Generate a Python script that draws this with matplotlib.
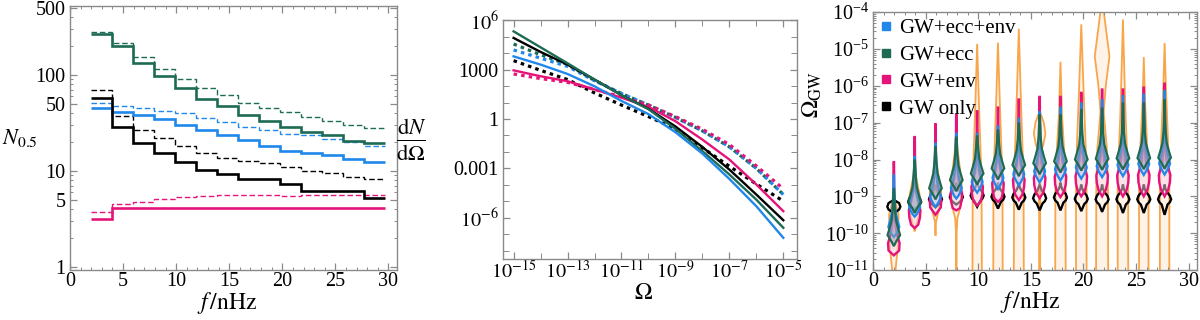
import numpy as np
import matplotlib
matplotlib.use('Agg')
import matplotlib.pyplot as plt
from matplotlib.lines import Line2D
from matplotlib.ticker import FixedLocator, FixedFormatter, LogLocator, NullFormatter, MultipleLocator

plt.rcParams['font.family'] = ['Liberation Serif', 'DejaVu Serif']
plt.rcParams['mathtext.fontset'] = 'stix'

GREEN = '#1d6b54'
BLUE = '#1f88ea'
PINK = '#e5147a'
BLACK = '#000000'
ORANGE = '#f9a54a'
FRAME = '#8a8a8a'

# ---------------- panel 1 : N_0.5 per frequency bin ----------------
f_edges = np.arange(1, 16) * 1.98   # bin edges, nHz
n_green = [268, 199, 132, 97.6, 73.6, 55.9, 47.2, 37.9, 32.8, 28.6, 25.3, 23.4, 20.4, 19.6]
n_green_d = [277, 215, 152, 116, 90, 73.6, 61.6, 51.2, 45.3, 40.5, 36.4, 33, 30.3, 27.9]
n_blue = [45.3, 41.1, 37.9, 34.2, 29.8, 26.8, 23.7, 20.7, 18.3, 16.2, 15.4, 14.4, 13.3, 12.2]
n_blue_d = [50.3, 47.2, 45.3, 41.8, 39.5, 35, 31.8, 28.6, 26.4, 24.3, 23.4, 21.5, 19.9, 18.3]
n_black = [56.8, 28.6, 19.4, 15.4, 12.2, 10.2, 9.2, 8.2, 8.2, 7.2, 6.2, 6.2, 6.2, 5.2]
n_black_d = [69, 37.3, 26.8, 21.9, 17.9, 15.2, 13.6, 12.7, 11.9, 10.8, 10, 9.45, 8.65, 8.2]
n_pink = [3.1, 4.11, 4.11, 4.11, 4.11, 4.11, 4.11, 4.11, 4.11, 4.11, 4.11, 4.11, 4.11, 4.11]
n_pink_d = [3.7, 4.46, 4.75, 5.1, 5.37, 5.45, 5.6, 5.6, 5.6, 5.45, 5.6, 5.6, 5.6, 5.6]

# ---------------- panel 2 : dN/dOmega (log10 values) ----------------
om_log = [-15, -14, -13, -12, -11, -10, -9, -8, -7, -6, -5]
dn_green = [5.33, 4.36, 3.39, 2.40, 1.45, 0.6, -0.6, -1.95, -3.37, -4.9, -6.61]
dn_black = [4.93, 4.08, 3.31, 2.4, 1.45, 0.62, -0.45, -1.7, -3.07, -4.59, -6.15]
dn_green_d = [4.56, 3.91, 3.31, 2.35, 1.55, 0.85, 0.1, -0.72, -1.69, -3.0, -4.59]
dn_blue_d = [4.2, 3.7, 3.2, 2.33, 1.55, 0.85, 0.1, -0.72, -1.69, -3.0, -4.59]
dn_blue = [3.81, 3.31, 2.74, 1.99, 1.1, 0.3, -0.8, -2.1, -3.64, -5.3, -7.22]
dn_black_d = [3.55, 2.96, 2.40, 1.59, 0.85, 0.15, -0.6, -1.75, -2.87, -3.95, -4.99]
dn_pink = [2.96, 2.6, 2.3, 1.8, 1.3, 0.74, -0.13, -1.25, -2.46, -3.98, -5.6]
dn_pink_d = [2.74, 2.46, 2.23, 1.8, 1.35, 0.85, 0.15, -0.62, -1.55, -2.85, -4.24]

# ---------------- panel 3 : violins (log10 Omega_GW) ----------------
f_bins = np.arange(1, 15) * 1.98
pink_top = [-8.07, -7.39, -7.04, -6.78, -6.69, -6.59, -6.37, -6.30, -6.30, -6.19, -6.10, -6.10, -6.05, -5.94]
pink_waist = [-10.27, -9.37, -9.1, -8.92, -8.74, -8.65, -8.55, -8.5, -8.47, -8.45, -8.43, -8.43, -8.42, -8.42]
pink_bottom = [-10.6, -9.86, -9.5, -9.38, -9.25, -9.15, -9.1, -9.05, -9.02, -9.0, -9.0, -9.0, -9.0, -9.0]
blue_top = [-8.43, -7.93, -7.57, -7.30, -7.30, -7.10, -6.89, -6.71, -6.59, -6.48, -6.39, -6.28, -6.24, -6.14]
blue_waist = [-9.83, -9.28, -9.0, -8.78, -8.61, -8.5, -8.4, -8.32, -8.27, -8.22, -8.18, -8.15, -8.12, -8.11]
blue_bottom = [-10.1, -9.55, -9.28, -9.06, -8.9, -8.8, -8.7, -8.62, -8.57, -8.52, -8.48, -8.45, -8.42, -8.41]
green_top = [-8.8, -8.02, -7.66, -7.40, -7.37, -7.21, -7.02, -6.80, -6.80, -6.66, -6.62, -6.48, -6.48, -6.39]
green_waist = [-10.05, -9.15, -8.78, -8.56, -8.38, -8.24, -8.15, -8.1, -8.05, -8.0, -7.98, -7.97, -7.96, -7.95]
green_bottom = [-10.35, -9.45, -9.08, -8.86, -8.68, -8.54, -8.45, -8.4, -8.35, -8.3, -8.28, -8.27, -8.26, -8.25]
black_top = [-9.1, -8.8, -8.7, -8.65, -8.6, -8.65, -8.65, -8.7, -8.65, -8.7, -8.7, -8.7, -8.7, -8.7]
black_waist = [-9.28, -9.15, -9.08, -9.02, -8.98, -9.01, -9.03, -9.05, -9.03, -9.07, -9.08, -9.08, -9.08, -9.08]
black_bottom = [-9.45, -9.35, -9.3, -9.22, -9.28, -9.33, -9.36, -9.38, -9.38, -9.4, -9.42, -9.45, -9.45, -9.5]

# orange violins, knots top -> bottom: log10 Omega and half width (nHz)
orange_logs = [
    [-9.0, -9.5, -10.4, -11.0, -11.3],
    [-8.3, -9.0, -9.5, -9.9, -9.95],
    [-8.0, -8.9, -9.4, -9.7, -10.05],
    [-7.5, -8.6, -9.2, -9.6, -10.0, -11.5],
    [-4.86, -6.4, -7.75, -8.5, -11.5],
    [-4.83, -6.4, -7.75, -8.5, -11.5],
    [-4.45, -6.2, -7.6, -8.5, -11.5],
    [-6.7, -7.0, -7.3, -7.6, -7.8, -9.5, -11.5],
    [-5.35, -6.8, -7.9, -8.6, -11.5],
    [-4.33, -6.0, -7.5, -8.5, -11.5],
    [-3.8, -4.2, -5.2, -6.0, -6.7, -7.7, -8.6, -11.5],
    [-4.2, -5.5, -6.8, -8.0, -8.8, -11.5],
    [-5.22, -6.3, -7.5, -8.6, -11.5],
    [-4.84, -6.0, -7.3, -8.5, -11.5],
]
orange_widths = [
    [0.02, 0.45, 0.37, 0.16, 0.02],
    [0.02, 0.5, 0.4, 0.05, 0.0],
    [0.02, 0.55, 0.3, 0.04, 0.02],
    [0.02, 0.5, 0.45, 0.1, 0.03, 0.03],
    [0.0, 0.16, 0.32, 0.42, 0.45],
    [0.0, 0.17, 0.33, 0.43, 0.45],
    [0.0, 0.18, 0.34, 0.45, 0.48],
    [0.02, 0.4, 0.55, 0.35, 0.08, 0.05, 0.05],
    [0.0, 0.15, 0.38, 0.48, 0.5],
    [0.0, 0.2, 0.4, 0.5, 0.5],
    [0.1, 0.25, 0.7, 0.35, 0.15, 0.45, 0.55, 0.58],
    [0.0, 0.12, 0.25, 0.42, 0.5, 0.5],
    [0.0, 0.1, 0.3, 0.45, 0.45],
    [0.0, 0.12, 0.3, 0.45, 0.45],
]

legend_labels = ['GW+ecc+env', 'GW+ecc', 'GW+env', 'GW only']

# violin outline templates (offset from waist in decades, fraction of max width)
FLAME = [(1.1, 0.08), (0.7, 0.17), (0.4, 0.34), (0.18, 0.68)]
LOWER = {
    'pink': [(-0.2, 0.92), (-0.4, 0.62), (-0.55, 0.3)],
    'blue': [(-0.1, 0.75), (-0.2, 0.4)],
    'green': [(-0.08, 0.7), (-0.18, 0.35)],
    'black': [(-0.08, 0.8), (-0.14, 0.45)],
}
BLACK_UP = [(0.3, 0.1), (0.2, 0.35), (0.1, 0.8)]


def draw_violin(ax, x, logs, widths, fc, ec, lw, alpha=1.0, z=2):
    logs = np.asarray(logs)
    widths = np.asarray(widths)
    xs = np.concatenate([x + widths, (x - widths)[::-1]])
    ys = 10.0 ** np.concatenate([logs, logs[::-1]])
    ax.fill(xs, ys, facecolor=fc, alpha=alpha, zorder=z, lw=0)
    ax.fill(xs, ys, facecolor='none', edgecolor=ec, lw=lw, zorder=z + 0.1)


def inner_knots(top, waist, bottom, wmax, kind):
    up = BLACK_UP if kind == 'black' else FLAME
    logs, ws = [top], [0.02]
    for d, fr in up:
        if waist + d < top - 0.05:
            logs.append(waist + d)
            ws.append(fr * wmax)
    logs.append(waist)
    ws.append(wmax)
    for d, fr in LOWER[kind]:
        if waist + d > bottom + 0.03:
            logs.append(waist + d)
            ws.append(fr * wmax)
    logs.append(bottom)
    ws.append(0.0)
    return logs, ws


def style_axes(ax):
    for s in ax.spines.values():
        s.set_color(FRAME)
        s.set_linewidth(1.0)
    ax.tick_params(which='both', direction='in', top=True, right=True, color=FRAME,
                   labelsize=14.5)
    ax.tick_params(axis='x', which='both', pad=1.5)
    ax.tick_params(axis='y', which='both', pad=3)
    ax.tick_params(which='major', length=5, width=0.9)
    ax.tick_params(which='minor', length=2.5, width=0.7)


fig = plt.figure(figsize=(12, 3.2), dpi=100)

# ---------- panel 1 ----------
ax1 = fig.add_axes([0.0583, 0.156, 0.2725, 0.825])
dash = (0, (4, 2))
for vals, col in [(n_green_d, GREEN), (n_blue_d, BLUE), (n_black_d, BLACK), (n_pink_d, PINK)]:
    ax1.stairs(vals, f_edges, baseline=None, color=col, lw=1.0, linestyle=dash)
for vals, col in [(n_green, GREEN), (n_blue, BLUE), (n_black, BLACK), (n_pink, PINK)]:
    ax1.stairs(vals, f_edges, baseline=None, color=col, lw=1.9)
ax1.set_yscale('log')
ax1.set_xlim(0, 30.8)
ax1.set_ylim(0.92, 520)
ax1.yaxis.set_major_locator(FixedLocator([1, 5, 10, 50, 100, 500]))
ax1.yaxis.set_major_formatter(FixedFormatter(['1', '5', '10', '50', '100', '500']))
ax1.yaxis.set_minor_locator(LogLocator(base=10, subs=np.arange(1, 10)))
ax1.yaxis.set_minor_formatter(NullFormatter())
ax1.xaxis.set_major_locator(MultipleLocator(5))
ax1.xaxis.set_minor_locator(MultipleLocator(1))
style_axes(ax1)
ax1.set_ylabel(r'$N_{0.5}$', rotation=0, fontsize=16)
ax1.yaxis.set_label_coords(-0.152, 0.46)
ax1.set_xlabel(r'$f\,/\mathrm{nHz}$', fontsize=17)
ax1.xaxis.set_label_coords(0.48, -0.075)

# ---------- panel 2 ----------
ax2 = fig.add_axes([0.419, 0.191, 0.245, 0.747])
om = 10.0 ** np.asarray(om_log, dtype=float)
for vals, col in [(dn_green_d, GREEN), (dn_blue_d, BLUE), (dn_black_d, BLACK), (dn_pink_d, PINK)]:
    ax2.plot(om, 10.0 ** np.asarray(vals), color=col, lw=2.3, linestyle=(0, (1.1, 1.3)))
for vals, col in [(dn_pink, PINK), (dn_black, BLACK), (dn_green, GREEN), (dn_blue, BLUE)]:
    ax2.plot(om, 10.0 ** np.asarray(vals), color=col, lw=1.7)
ax2.set_xscale('log')
ax2.set_yscale('log')
ax2.set_xlim(10 ** -15.4, 10 ** -4.5)
ax2.set_ylim(10 ** -8.5, 10 ** 6.03)
ax2.xaxis.set_major_locator(FixedLocator([1e-15, 1e-13, 1e-11, 1e-9, 1e-7, 1e-5]))
ax2.xaxis.set_major_formatter(FixedFormatter([r'$10^{-15}$', r'$10^{-13}$', r'$10^{-11}$',
                                              r'$10^{-9}$', r'$10^{-7}$', r'$10^{-5}$']))
ax2.xaxis.set_minor_locator(FixedLocator([1e-14, 1e-12, 1e-10, 1e-8, 1e-6]))
ax2.xaxis.set_minor_formatter(NullFormatter())
ax2.yaxis.set_major_locator(FixedLocator([1e6, 1e3, 1, 1e-3, 1e-6]))
ax2.yaxis.set_major_formatter(FixedFormatter([r'$10^{6}$', '1000', '1', '0.001', r'$10^{-6}$']))
ax2.yaxis.set_minor_locator(FixedLocator([1e5, 1e4, 1e2, 1e1, 1e-1, 1e-2, 1e-4, 1e-5, 1e-7, 1e-8]))
ax2.yaxis.set_minor_formatter(NullFormatter())
style_axes(ax2)
ax2.tick_params(which='minor', length=4)
ax2.set_ylabel(r'$\frac{\mathrm{d}N}{\mathrm{d}\Omega}$', rotation=0, fontsize=23)
ax2.yaxis.set_label_coords(-0.31, 0.4)
ax2.set_xlabel(r'$\Omega$', fontsize=17)
ax2.xaxis.set_label_coords(0.48, -0.1)

# ---------- panel 3 ----------
ax3 = fig.add_axes([0.7275, 0.156, 0.27, 0.806])
ax3.set_yscale('log')
for i, x in enumerate(f_bins):
    draw_violin(ax3, x, orange_logs[i], orange_widths[i], '#fef2e6', ORANGE, 1.3, 0.85, z=1)
series = [
    ('black', black_top, black_waist, black_bottom, 0.62, 'none', BLACK, 1.7),
    ('pink', pink_top, pink_waist, pink_bottom, 0.55, '#f8d3e4', PINK, 1.7),
    ('blue', blue_top, blue_waist, blue_bottom, 0.52, '#c4c4f0', BLUE, 1.6),
    ('green', green_top, green_waist, green_bottom, 0.6, '#97a0b0', GREEN, 1.6),
]
for zi, (kind, tops, waists, bots, wmax, fc, ec, lw) in enumerate(series):
    for i, x in enumerate(f_bins):
        logs, ws = inner_knots(tops[i], waists[i], bots[i], wmax, kind)
        draw_violin(ax3, x, logs, ws, fc, ec, lw, 0.5, z=2 + zi)
ax3.set_xlim(0, 30.8)
ax3.set_ylim(1e-11, 1e-4)
ax3.yaxis.set_major_locator(LogLocator(base=10, numticks=20))
ax3.yaxis.set_minor_locator(LogLocator(base=10, subs=np.arange(2, 10), numticks=20))
ax3.yaxis.set_minor_formatter(NullFormatter())
ax3.xaxis.set_major_locator(MultipleLocator(5))
ax3.xaxis.set_minor_locator(MultipleLocator(1))
style_axes(ax3)
ax3.set_ylabel(r'$\Omega_{\mathrm{GW}}$', fontsize=17)
ax3.yaxis.set_label_coords(-0.15, 0.68)
ax3.set_xlabel(r'$f\,/\mathrm{nHz}$', fontsize=17)
ax3.xaxis.set_label_coords(0.485, -0.075)
handles = [Line2D([], [], marker='s', ls='none', color=c, markersize=5.5)
           for c in [BLUE, GREEN, PINK, BLACK]]
ax3.legend(handles, legend_labels, loc='upper left', frameon=False, fontsize=15,
           handlelength=0.6, handletextpad=0.35, labelspacing=0.35,
           borderpad=0.1, borderaxespad=0.2)

fig.savefig('out.png', dpi=100)
